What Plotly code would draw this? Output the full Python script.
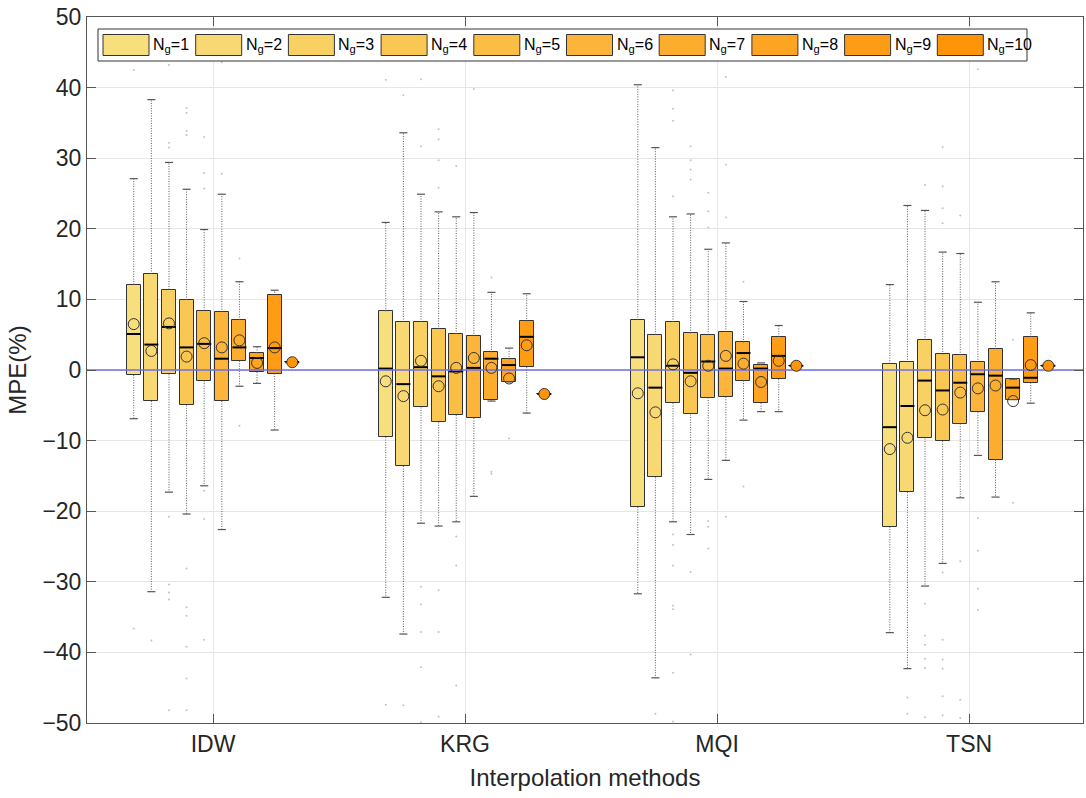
import plotly.graph_objects as go

# ---------------- data ----------------
methods = ["IDW", "KRG", "MQI", "TSN"]
ng_values = [1, 2, 3, 4, 5, 6, 7, 8, 9, 10]
ng_labels = ["N<sub>g</sub>=%d" % k for k in ng_values]

colors = ["#F7DF7E", "#F8D872", "#F9D062", "#FAC752", "#FBBE45",
          "#FCB53A", "#FDAD2E", "#FDA422", "#FE9C15", "#FF9408"]

# rows: IDW, KRG, MQI, TSN ; columns: Ng = 1..10
upper_whisker = [
    [27.1, 38.3, 29.4, 25.6, 19.9, 24.9, 12.5, 3.3, 11.3, 1.1],
    [20.9, 33.6, 24.9, 22.4, 21.7, 22.3, 11.0, 3.1, 10.8, -3.4],
    [40.4, 31.5, 21.7, 22.1, 17.1, 18.0, 9.7, 1.0, 6.3, 0.6],
    [12.1, 23.3, 22.6, 16.7, 16.5, 9.6, 12.5, -1.3, 8.1, 0.6],
]
q3 = [
    [12.1, 13.6, 11.4, 9.9, 8.4, 8.2, 7.1, 2.4, 10.6, 1.1],
    [8.3, 6.8, 6.8, 5.8, 5.1, 4.8, 2.5, 1.5, 6.9, -3.4],
    [7.1, 5.0, 6.8, 5.2, 5.0, 5.4, 3.9, 0.7, 4.7, 0.6],
    [0.9, 1.1, 4.3, 2.2, 2.1, 1.1, 3.0, -1.3, 4.7, 0.6],
]
median = [
    [5.1, 3.6, 6.1, 3.2, 3.7, 1.6, 3.2, 1.7, 3.1, 1.1],
    [0.2, -2.0, 0.4, -0.9, -0.2, 0.3, 1.6, 0.7, 4.7, -3.4],
    [1.8, -2.5, 0.6, -0.4, 1.2, 0.2, 2.4, 0.2, 2.0, 0.6],
    [-8.1, -5.1, -1.5, -2.9, -1.8, -0.6, -0.8, -2.5, -1.1, 0.6],
]
q1 = [
    [-0.7, -4.4, -0.6, -5.0, -1.5, -4.4, 1.3, -0.3, -0.5, 1.1],
    [-9.5, -13.6, -5.3, -7.4, -6.4, -6.8, -4.2, -1.7, 0.4, -3.4],
    [-19.4, -15.2, -4.7, -6.3, -3.9, -3.8, -1.5, -4.7, -1.3, 0.6],
    [-22.2, -17.3, -9.7, -10.1, -7.6, -6.0, -12.7, -4.2, -1.8, 0.6],
]
lower_whisker = [
    [-6.9, -31.4, -17.3, -20.4, -16.4, -22.6, -2.3, -1.9, -8.5, 1.1],
    [-32.2, -37.4, -21.7, -22.1, -21.5, -17.9, -4.4, -1.7, -6.1, -3.4],
    [-31.7, -43.6, -21.5, -23.3, -15.5, -12.8, -7.1, -5.9, -5.9, 0.6],
    [-37.2, -42.3, -30.6, -27.4, -18.1, -12.1, -18.0, -4.2, -4.7, 0.6],
]
mean = [
    [6.5, 2.7, 6.6, 1.9, 3.8, 3.2, 4.2, 1.0, 3.2, 1.1],
    [-1.6, -3.7, 1.3, -2.3, 0.3, 1.7, 0.3, -1.2, 3.5, -3.4],
    [-3.3, -6.0, 0.8, -1.6, 0.6, 2.0, 0.9, -1.7, 1.3, 0.6],
    [-11.2, -9.6, -5.7, -5.6, -3.2, -2.6, -2.2, -4.4, 0.7, 0.6],
]

outliers_IDW = [
    [42.5, -36.6],
    [-38.3],
    [43.2, 32.2, 31.5, -20.8, -30.4, -31.5, -32.5, -48.2],
    [37.1, 36.4, 33.9, 33.3, -28.1, -33.6, -34.8, -39.2, -43.7, -48.2],
    [33.0, 27.9, 25.7, -17.1, -21.1, -38.2],
    [43.6, 27.8],
    [15.8, -7.9],
    [], [], [],
]
outliers_KRG = [
    [41.1, -47.4],
    [38.9, -47.5],
    [41.2, 31.7, -30.7, -33.2, -37.1, -42.1, -49.9],
    [34.1, 32.7, 29.7, 25.8, -31.2, -37.1, -49.1],
    [28.9, -23.6, -27.7, -44.7],
    [39.8],
    [13.1, -14.4, -14.7],
    [-9.7],
    [], [],
]
outliers_MQI = [
    [],
    [-48.7],
    [39.6, 37.0, 35.3, 24.6, -23.3, -24.8, -27.7, -33.4, -33.9, -42.9, -49.8],
    [31.7, 29.7, 28.4, 27.0, -28.6, -40.3],
    [25.1, 22.5, 20.2, -21.4, -22.2, -25.3],
    [41.5, 29.1, 21.6, -20.8],
    [12.5, -16.5],
    [], [], [],
]
outliers_TSN = [
    [],
    [-46.4, -48.7],
    [26.2, -33.1, -37.6, -38.9, -40.9, -42.2, -49.2],
    [31.6, 26.0, 22.9, 20.8, -28.7, -38.2, -41.0, -42.3, -46.2, -48.9],
    [21.9, -27.1, -46.7, -49.3],
    [42.6, -21.0, -25.6, -31.0, -34.0],
    [],
    [4.3, -18.8],
    [], [],
]
outliers = [outliers_IDW, outliers_KRG, outliers_MQI, outliers_TSN]

# ---------------- layout constants ----------------
W, H = 1086, 798
ML, MR, MT, MB = 87, 3, 17, 75
PW, PH = W - ML - MR, H - MT - MB
STEP = 0.0699        # spacing of boxes within a group (x units)
BOX_W = 0.0556       # box width (x units)
CAP = 0.016          # half cap width
FONT = "Arial, Liberation Sans, sans-serif"
EDGE = "#333333"

fig = go.Figure()

for k in range(len(ng_values)):
    offs = (k - 4.5) * STEP
    xs = [m + 1 + offs for m in range(len(methods))]
    lo_b = [q1[m][k] for m in range(4)]
    hi_b = [q3[m][k] for m in range(4)]
    fig.add_trace(go.Bar(
        x=xs, base=lo_b, y=[h - l for h, l in zip(hi_b, lo_b)],
        width=BOX_W, marker=dict(color=colors[k], line=dict(color=EDGE, width=1)),
        showlegend=False, hoverinfo="skip"))

for k in range(len(ng_values)):
    offs = (k - 4.5) * STEP
    wx, wy, cx, cy, mx, my = [], [], [], [], [], []
    for m in range(4):
        x = m + 1 + offs
        wx += [x, x, None, x, x, None]
        wy += [q3[m][k], upper_whisker[m][k], None, q1[m][k], lower_whisker[m][k], None]
        cx += [x - CAP, x + CAP, None, x - CAP, x + CAP, None]
        cy += [upper_whisker[m][k]] * 2 + [None] + [lower_whisker[m][k]] * 2 + [None]
        mx += [x - BOX_W / 2, x + BOX_W / 2, None]
        my += [median[m][k]] * 2 + [None]
    fig.add_trace(go.Scatter(x=wx, y=wy, mode="lines",
                             line=dict(color="#5a5a5a", width=1, dash="1px,1.5px"),
                             showlegend=False, hoverinfo="skip"))
    fig.add_trace(go.Scatter(x=cx, y=cy, mode="lines",
                             line=dict(color="#555555", width=1.2),
                             showlegend=False, hoverinfo="skip"))
    fig.add_trace(go.Scatter(x=mx, y=my, mode="lines",
                             line=dict(color="#000000", width=2),
                             showlegend=False, hoverinfo="skip"))
    ox, oy = [], []
    for m in range(4):
        for v in outliers[m][k]:
            ox.append(m + 1 + offs)
            oy.append(v)
    if ox:
        fig.add_trace(go.Scatter(x=ox, y=oy, mode="markers",
                                 marker=dict(size=2, color="#c2c2c2"),
                                 showlegend=False, hoverinfo="skip"))

# zero reference line
fig.add_trace(go.Scatter(x=[0.5, 4.452], y=[0, 0], mode="lines",
                         line=dict(color="#6E6EEE", width=1.5),
                         showlegend=False, hoverinfo="skip"))

# means
for k in range(len(ng_values)):
    offs = (k - 4.5) * STEP
    xs = [m + 1 + offs for m in range(4)]
    ys = [mean[m][k] for m in range(4)]
    if k == len(ng_values) - 1:
        mk = dict(symbol="circle", size=11, color=colors[k], line=dict(color=EDGE, width=1))
    else:
        mk = dict(symbol="circle-open", size=11, color=EDGE, line=dict(width=1))
    fig.add_trace(go.Scatter(x=xs, y=ys, mode="markers", marker=mk,
                             showlegend=False, hoverinfo="skip"))

# ---------------- manual legend (pixel -> paper) ----------------
def px(xp):
    return (xp - ML) / PW

def py(yp):
    return (H - MB - yp) / PH

shapes = [dict(type="rect", xref="paper", yref="paper",
               x0=px(98), x1=px(1027), y0=py(61), y1=py(29),
               line=dict(color="#333333", width=1), fillcolor="white", layer="above")]
annotations = []
for k in range(len(ng_values)):
    x0 = 103 + 92.7 * k
    shapes.append(dict(type="rect", xref="paper", yref="paper",
                       x0=px(x0), x1=px(x0 + 46), y0=py(55.5), y1=py(34.5),
                       line=dict(color="#333333", width=1), fillcolor=colors[k], layer="above"))
    annotations.append(dict(xref="paper", yref="paper", x=px(x0 + 48), y=py(45),
                            text=ng_labels[k], showarrow=False, xanchor="left",
                            yanchor="middle", font=dict(family=FONT, size=16, color="#000000")))

fig.update_layout(
    width=W, height=H,
    margin=dict(l=ML, r=MR, t=MT, b=MB),
    paper_bgcolor="white", plot_bgcolor="white",
    barmode="overlay", bargap=0,
    shapes=shapes, annotations=annotations,
    font=dict(family=FONT, color="#262626"),
    xaxis=dict(range=[0.5, 4.452], tickvals=[1, 2, 3, 4], ticktext=methods,
               showgrid=True, gridcolor="#e6e6e6", gridwidth=1, zeroline=False,
               ticks="inside", ticklen=9, tickcolor="#555555",
               showline=True, linecolor="#555555", linewidth=1, mirror="ticks",
               tickfont=dict(size=23, family=FONT, color="#262626"),
               title=dict(text="Interpolation methods", font=dict(size=24, family=FONT, color="#262626"),
                          standoff=13)),
    yaxis=dict(range=[-50, 50], tickvals=[-50, -40, -30, -20, -10, 0, 10, 20, 30, 40, 50],
               showgrid=True, gridcolor="#e6e6e6", gridwidth=1, zeroline=False,
               ticks="inside", ticklen=9, tickcolor="#555555",
               showline=True, linecolor="#555555", linewidth=1, mirror="ticks",
               tickfont=dict(size=23, family=FONT, color="#262626"),
               title=dict(text="MPE(%)", font=dict(size=24, family=FONT, color="#262626"),
                          standoff=8)),
)

fig.write_html("out.html")
